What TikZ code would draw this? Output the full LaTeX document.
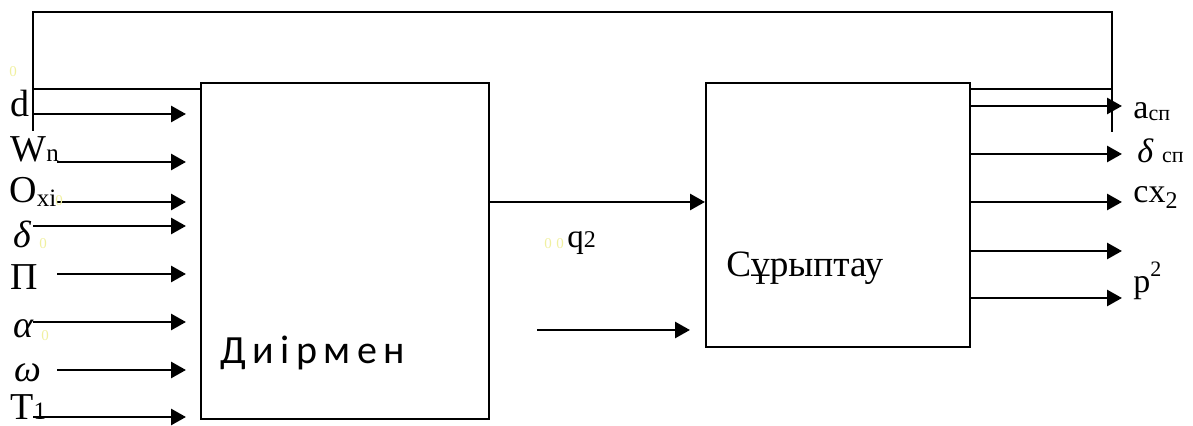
\documentclass[tikz,border=0pt]{standalone}
\usepackage{fontspec}
\setmainfont{Liberation Serif}
\newfontfamily\millfont[LetterSpace=16]{Carlito}
\usetikzlibrary{positioning,arrows.meta,calc}
\definecolor{ghostyellow}{RGB}{240,240,160}

\begin{document}
\begin{tikzpicture}[
    x=0.5pt, y=-0.5pt,
    block/.style={draw, line width=1pt, inner sep=0pt, anchor=north west},
    arrow/.style={-{Triangle[length=7.5pt,width=8pt]}, line width=1.4pt},
    link/.style={line width=0.9pt},
    inlbl/.style={anchor=base west, inner sep=0pt, font=\fontsize{19}{22}\selectfont},
    outlbl/.style={anchor=base west, inner sep=0pt, font=\fontsize{17}{20}\selectfont},
    ghost/.style={anchor=base west, inner sep=0pt, text=ghostyellow, font=\fontsize{7.5}{8}\selectfont}
]
\useasboundingbox (0,0) rectangle (1193,426);

% blocks
\node[block, minimum width=144pt, minimum height=168pt] (mill)   at (200,82) {};
\node[block, minimum width=132pt, minimum height=132pt] (sorter) at (705,82) {};
\node[anchor=base west, inner sep=0pt, font=\millfont\fontsize{20}{24}\selectfont] (millname) at (220,364) {Диірмен};
\node[anchor=base west, inner sep=0pt, font=\fontsize{18.6}{22}\selectfont] (sortname) at (726,277) {Сұрыптау};

% feedback loop
\coordinate (fbL) at (33,131);
\coordinate (fbR) at (1112,132);
\coordinate (fbLin) at (33,89);
\coordinate (fbRin) at (1112,89);
\draw[link] (fbL) -- ++(0,-119) -| (fbR);
\draw[link] (fbLin) -- (fbLin -| mill.west);
\draw[link] (fbRin -| sorter.east) -- (fbRin);

% inputs
\foreach \yy/\xs [count=\i] in {114/33,162/57,202/57,226/33,274/57,322/33,370/57,417/33} {
    \coordinate (in\i) at (\xs,\yy);
    \draw[arrow] (in\i) -- ($(in\i -| mill.west)+(-14,0)$);
}
\node[inlbl] (ld) at (10,117) {d};
\node[inlbl] (lw) at (10,162) {W\raisebox{0pt}{\fontsize{12.5}{14}\selectfont n}};
\node[inlbl] (lo) at (9,203) {O\raisebox{-2pt}{\fontsize{12.5}{14}\selectfont xi}};
\node[inlbl] (ldelta) at (13,248) {\textit{δ}};
\node[inlbl] (lpi) at (10,290) {Π};
\node[inlbl] (lalpha) at (13,338) {\textit{α}};
\node[inlbl] (lomega) at (14,382) {\textit{ω}};
\node[inlbl] (lt) at (10,420) {T\fontsize{12.5}{14}\selectfont 1};

% middle
\coordinate (qout) at (mill.east |- 0,202);
\draw[arrow] (qout) -- (qout -| sorter.west);
\coordinate (aux) at (537,330);
\draw[arrow] (aux) -- ($(aux -| sorter.west)+(-15,0)$);
\node[anchor=base west, inner sep=0pt, font=\fontsize{16.5}{20}\selectfont] (lq) at (567,248) {q\fontsize{12}{14}\selectfont 2};

% outputs
\foreach \yy [count=\i] in {106,154,202,251,298} {
    \coordinate (out\i) at (sorter.east |- 0,\yy);
    \draw[arrow] (out\i) -- (1122,\yy);
}
\node[outlbl] (la) at (1133,119) {a\raisebox{-1pt}{\fontsize{11}{12}\selectfont сп}};
\node[outlbl] (lds) at (1137,163) {\textit{δ} {\fontsize{11}{12}\selectfont сп}};
\node[outlbl] (lcx) at (1133,203) {cx\raisebox{-3pt}{\fontsize{12}{14}\selectfont 2}};
\node[outlbl] (lp) at (1133,293) {p\raisebox{8pt}{\fontsize{11}{12}\selectfont 2}};

% faint marks
\node[ghost] (g1) at (9,77) {0};
\node[ghost] (g2) at (55,206) {0};
\node[ghost] (g3) at (39,249) {0};
\node[ghost] (g4) at (41,341) {0};
\node[ghost] (g5) at (544,249) {0};
\node[ghost] (g6) at (556,249) {0};
\end{tikzpicture}
\end{document}
